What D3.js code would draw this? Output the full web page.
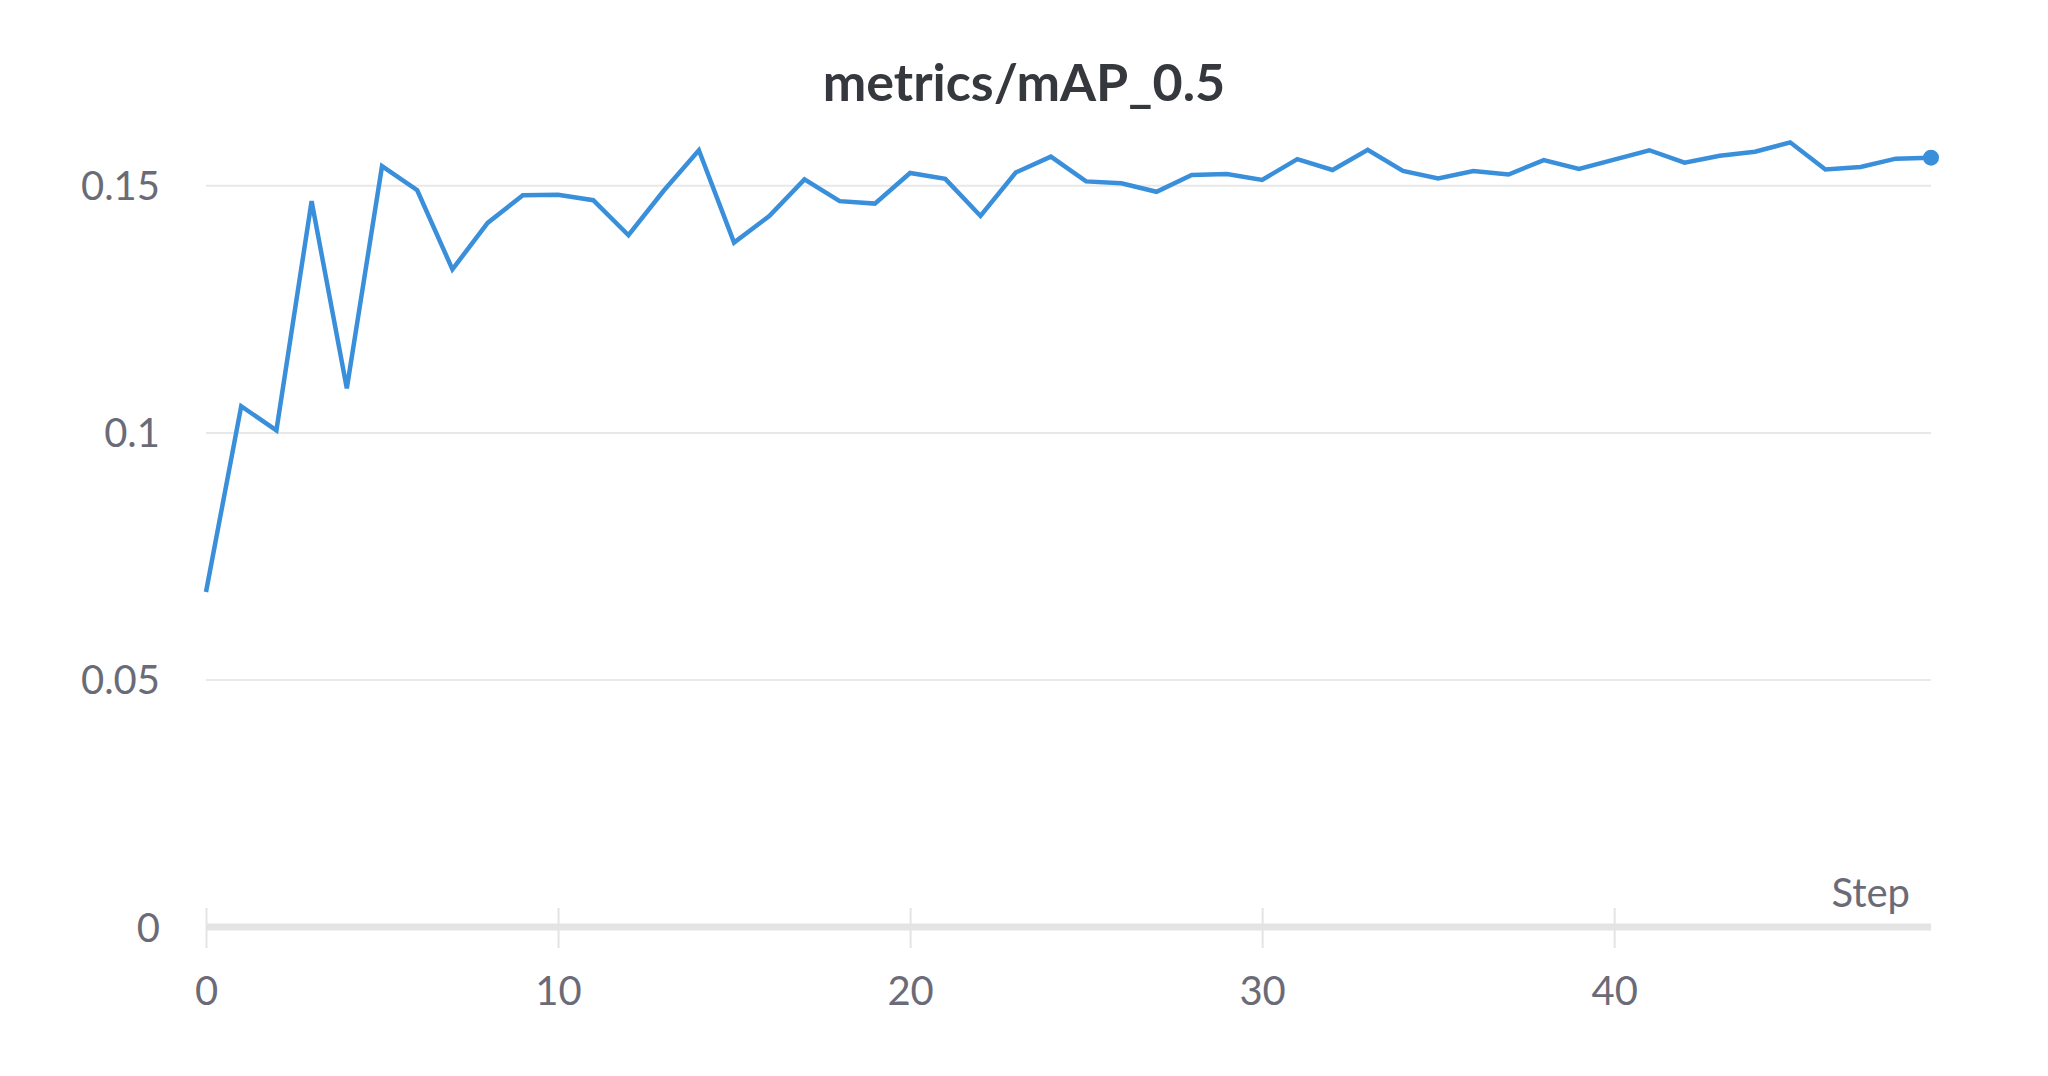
<!DOCTYPE html>
<html>
<head>
<meta charset="utf-8">
<script src="https://cdn.jsdelivr.net/npm/d3@7"></script>
<style>
  body { margin: 0; background: #fff; }
  text { font-family: "Source Sans Pro", Lato, "Open Sans", sans-serif; }
</style>
</head>
<body>
<svg id="chart" width="2048" height="1076"></svg>
<script>
const title = 'metrics/mAP_0.5';
const xAxisLabel = 'Step';
const steps = d3.range(0, 50);
const mapValues = [
  0.0678, 0.1054, 0.1005, 0.1469, 0.1090, 0.1540, 0.1491, 0.1331, 0.1425, 0.1481,
  0.1482, 0.1471, 0.1400, 0.1490, 0.1572, 0.1385, 0.1439, 0.1513, 0.1469, 0.1464,
  0.1526, 0.1514, 0.1439, 0.1527, 0.1559, 0.1509, 0.1505, 0.1488, 0.1522, 0.1524,
  0.1512, 0.1554, 0.1532, 0.1573, 0.1530, 0.1515, 0.1530, 0.1523, 0.1552, 0.1534,
  0.1553, 0.1572, 0.1547, 0.1561, 0.1569, 0.1588, 0.1533, 0.1538, 0.1555, 0.1557
];
const xTicks = [0, 10, 20, 30, 40];
const yTicks = [0, 0.05, 0.1, 0.15];
const yTickLabels = ['0', '0.05', '0.1', '0.15'];

const svg = d3.select('#chart');
const margin = {top: 87, right: 117, left: 206, bottom: 149};
const width = +svg.attr('width');
const height = +svg.attr('height');
const innerWidth = width - margin.left - margin.right;
const innerHeight = height - margin.top - margin.bottom;

const data = steps.map((s, i) => ({step: s, value: mapValues[i]}));

const xScale = d3.scaleLinear()
    .domain([0, 49])
    .range([0, innerWidth]);

const yScale = d3.scaleLinear()
    .domain([0, 0.17])
    .range([innerHeight, 0]);

const g = svg.append('g')
    .attr('transform', `translate(${margin.left}, ${margin.top})`);

// title
svg.append('text')
    .attr('x', 1024)
    .attr('y', 101)
    .attr('text-anchor', 'middle')
    .attr('font-size', 52)
    .attr('font-weight', 700)
    .attr('fill', '#35383c')
    .text(title);

// horizontal grid lines
g.selectAll('.grid')
    .data(yTicks.filter(d => d > 0))
    .enter().append('line')
        .attr('class', 'grid')
        .attr('x1', 0)
        .attr('x2', innerWidth)
        .attr('y1', d => yScale(d))
        .attr('y2', d => yScale(d))
        .attr('stroke', '#e8e8e8')
        .attr('stroke-width', 2);

// y axis labels
const yAxis = d3.axisLeft(yScale)
    .tickValues(yTicks)
    .tickFormat((d, i) => yTickLabels[i])
    .tickSize(0)
    .tickPadding(46);
const yAxisG = g.append('g').call(yAxis);
yAxisG.select('.domain').remove();
yAxisG.selectAll('text')
    .attr('font-size', 40)
    .attr('fill', '#6b6b78')
    .attr('dy', '0.35em');

// x axis
const xAxis = d3.axisBottom(xScale)
    .tickValues(xTicks)
    .tickSize(0)
    .tickPadding(0);
const xAxisG = g.append('g')
    .attr('transform', `translate(0, ${innerHeight})`)
    .call(xAxis);
xAxisG.select('.domain').remove();
xAxisG.selectAll('.tick').append('line')
    .attr('y1', -19)
    .attr('y2', 21)
    .attr('stroke', '#e4e4e4')
    .attr('stroke-width', 2);
xAxisG.append('line')
    .attr('x1', 0)
    .attr('x2', innerWidth)
    .attr('y1', 0)
    .attr('y2', 0)
    .attr('stroke', '#e4e4e4')
    .attr('stroke-width', 7);
xAxisG.selectAll('.tick text')
    .attr('font-size', 40)
    .attr('fill', '#6b6b78')
    .attr('y', 78)
    .attr('dy', 0);

xAxisG.append('text')
    .attr('x', innerWidth - 21)
    .attr('y', -20)
    .attr('text-anchor', 'end')
    .attr('font-size', 40)
    .attr('fill', '#6b6b78')
    .text(xAxisLabel);

// line
const line = d3.line()
    .x(d => xScale(d.step))
    .y(d => yScale(d.value));

g.append('path')
    .datum(data)
    .attr('fill', 'none')
    .attr('stroke', '#3a8fdb')
    .attr('stroke-width', 4.5)
    .attr('d', line);

const last = data[data.length - 1];
g.append('circle')
    .attr('cx', xScale(last.step))
    .attr('cy', yScale(last.value))
    .attr('r', 8)
    .attr('fill', '#3a8fdb');
</script>
</body>
</html>
